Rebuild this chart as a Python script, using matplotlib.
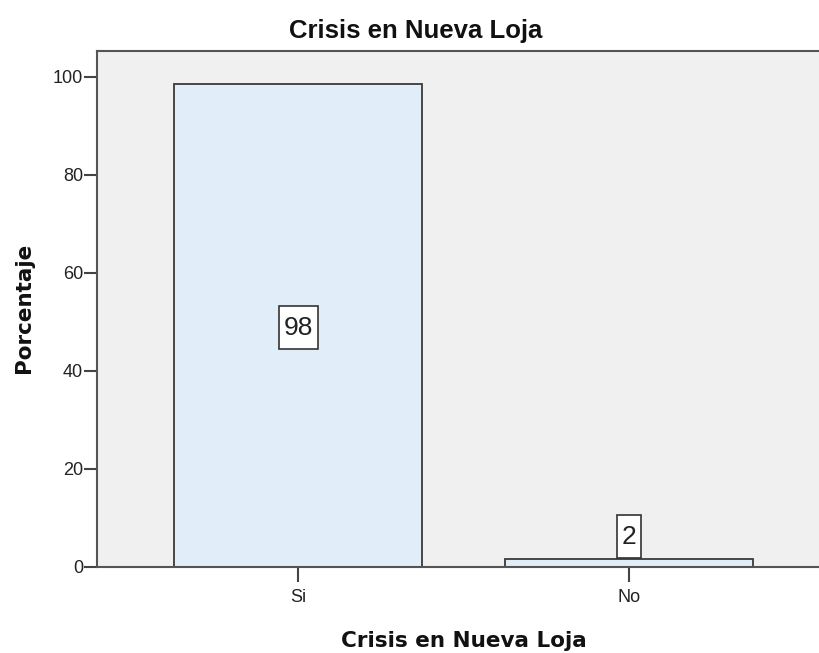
import matplotlib
matplotlib.use("Agg")
import matplotlib.pyplot as plt
from matplotlib.path import Path

categories = ["Si", "No"]
values = [98.4, 1.6]
labels = ["98", "2"]
yticks = [0, 20, 40, 60, 80, 100]

W, H = 819, 653
fig = plt.figure(figsize=(W / 100, H / 100), dpi=100)
ax = fig.add_axes([97 / W, 1 - 566.5 / H, 1 - 97 / W, (566.5 - 50.7) / H])
ax.set_facecolor("#F0F0F0")

x = list(range(len(categories)))
ax.bar(x, values, width=0.75, color="#E1EDF9", edgecolor="#3a3a3a", linewidth=1.3, zorder=2)
ax.set_xlim(-0.609, 1.575)
ax.set_ylim(0, 105.3)


def tall_box(x0, y0, width, height, mutation_size):
    px = 0.17 * mutation_size
    py = 0.36 * mutation_size
    xa, ya = x0 - px, y0 - py
    xb, yb = x0 + width + px, y0 + height + py
    return Path([(xa, ya), (xb, ya), (xb, yb), (xa, yb), (xa, ya)], closed=True)


for xi, v, lab in zip(x, values, labels):
    ypos = v / 2 - 0.5 if v > 20 else v + 4.5
    ax.text(xi, ypos, lab, ha="center", va="center", fontsize=19, family="Liberation Sans",
            color="#222222", zorder=3,
            bbox=dict(boxstyle=tall_box, facecolor="white", edgecolor="#333333", linewidth=1.2))

ax.set_xticks(x)
ax.set_xticklabels(categories, fontsize=13, family="Liberation Sans", color="#222222")
ax.set_yticks(yticks)
ax.set_yticklabels([str(t) for t in yticks], fontsize=13, family="Liberation Sans", color="#222222")
ax.tick_params(axis="y", length=9.5, width=1.5, color="#444444", pad=0.5)
ax.tick_params(axis="x", length=10.5, width=1.5, color="#444444", pad=6)

for s in ["left", "bottom", "top"]:
    ax.spines[s].set_color("#555555")
    ax.spines[s].set_linewidth(1.5)
ax.spines["right"].set_visible(False)

fig.text(415.5 / W, 1 - 38 / H, "Crisis en Nueva Loja", ha="center", va="baseline",
         fontsize=18.5, fontweight="bold", family="Liberation Sans", color="#111111")
fig.text(464 / W, 1 - 647 / H, "Crisis en Nueva Loja", ha="center", va="baseline",
         fontsize=15.5, fontweight="bold", family="DejaVu Sans", color="#111111")
fig.text(24 / W, 1 - 308 / H, "Porcentaje", ha="center", va="center", rotation=90,
         fontsize=15.5, fontweight="bold", family="DejaVu Sans", color="#111111")

fig.savefig("out.png", dpi=100)
